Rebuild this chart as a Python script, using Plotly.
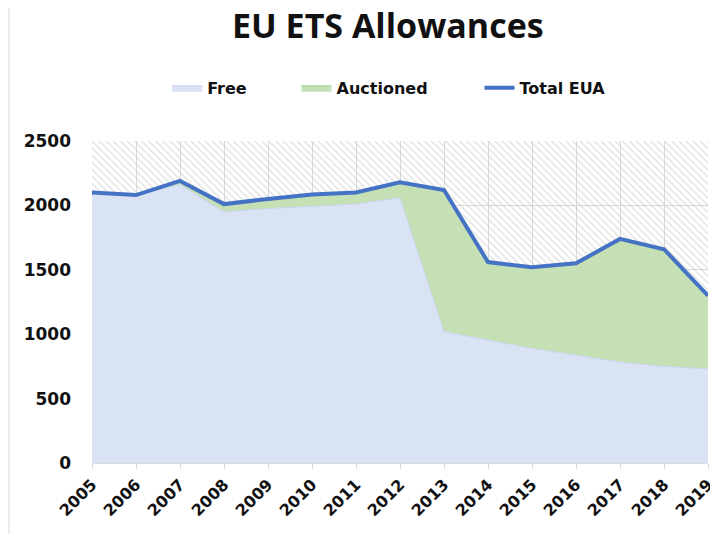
import plotly.graph_objects as go

years = list(range(2005, 2020))
free = [2100, 2080, 2160, 1950, 1975, 1990, 2010, 2060, 1020, 955, 890, 838, 784, 750, 730]
auctioned = [0, 0, 30, 60, 75, 95, 90, 120, 1100, 605, 630, 712, 956, 910, 570]
total = [f + a for f, a in zip(free, auctioned)]
y_ticks = [0, 500, 1000, 1500, 2000, 2500]

fig = go.Figure()

# hatched background
fig.add_trace(go.Bar(
    x=years, y=[2500] * len(years), width=1,
    marker=dict(color="rgba(0,0,0,0)", line=dict(width=0),
                pattern=dict(shape="\\", fgcolor="#C8C8C8", bgcolor="rgba(0,0,0,0)", size=5, solidity=0.3)),
    showlegend=False, hoverinfo="skip",
))

fig.add_trace(go.Scatter(
    x=years, y=free, name="<b>Free</b>", stackgroup="s", mode="lines",
    line=dict(color="#C9D6EE", width=1), fillcolor="#DAE3F3", legend="legend",
))
fig.add_trace(go.Scatter(
    x=years, y=auctioned, name="<b>Auctioned</b>", stackgroup="s", mode="lines",
    line=dict(color="#A9D18E", width=1), fillcolor="#C5E0B4", legend="legend2",
))
fig.add_trace(go.Scatter(
    x=years, y=total, name="<b>Total EUA</b>", mode="lines",
    line=dict(color="#4472C4", width=4), legend="legend3",
))

leg_common = dict(orientation="h", xanchor="left", y=1.165, yanchor="middle",
                  font=dict(family="DejaVu Sans", size=16, color="#111111"),
                  bgcolor="rgba(0,0,0,0)", itemwidth=30)

fig.update_layout(
    width=710, height=526,
    margin=dict(l=84, r=10, t=133, b=71),
    paper_bgcolor="white", plot_bgcolor="white",
    bargap=0,
    title=dict(text="<b>EU ETS Allowances</b>", x=0.535, xanchor="center", y=0.965, yanchor="middle",
               font=dict(family="Open Sans", size=34, color="#111111")),
    legend=dict(x=0.122, **leg_common),
    legend2=dict(x=0.332, **leg_common),
    legend3=dict(x=0.629, **leg_common),
    font=dict(family="DejaVu Sans", color="#111111"),
    xaxis=dict(range=[2005, 2019], tickvals=years, ticktext=[f"<b>{y}</b>" for y in years],
               tickangle=-45, tickfont=dict(size=16), showgrid=True, gridcolor="#D9D9D9",
               ticks="outside", ticklen=5, tickcolor="#D9D9D9", ticklabeloverflow="allow",
               showline=True, linecolor="#D9D9D9", zeroline=False, automargin=False),
    yaxis=dict(range=[0, 2500], tickvals=y_ticks, ticktext=[f"<b>{v}</b>" for v in y_ticks],
               tickfont=dict(size=17), showgrid=True, gridcolor="#D9D9D9", zeroline=False,
               ticklabelstandoff=20, automargin=False),
)

fig.add_shape(type="line", xref="paper", yref="paper", x0=-0.1347, x1=-0.1347, y0=-0.25, y1=1.45,
              line=dict(color="#D9D9D9", width=1))

fig.write_html("out.html")
